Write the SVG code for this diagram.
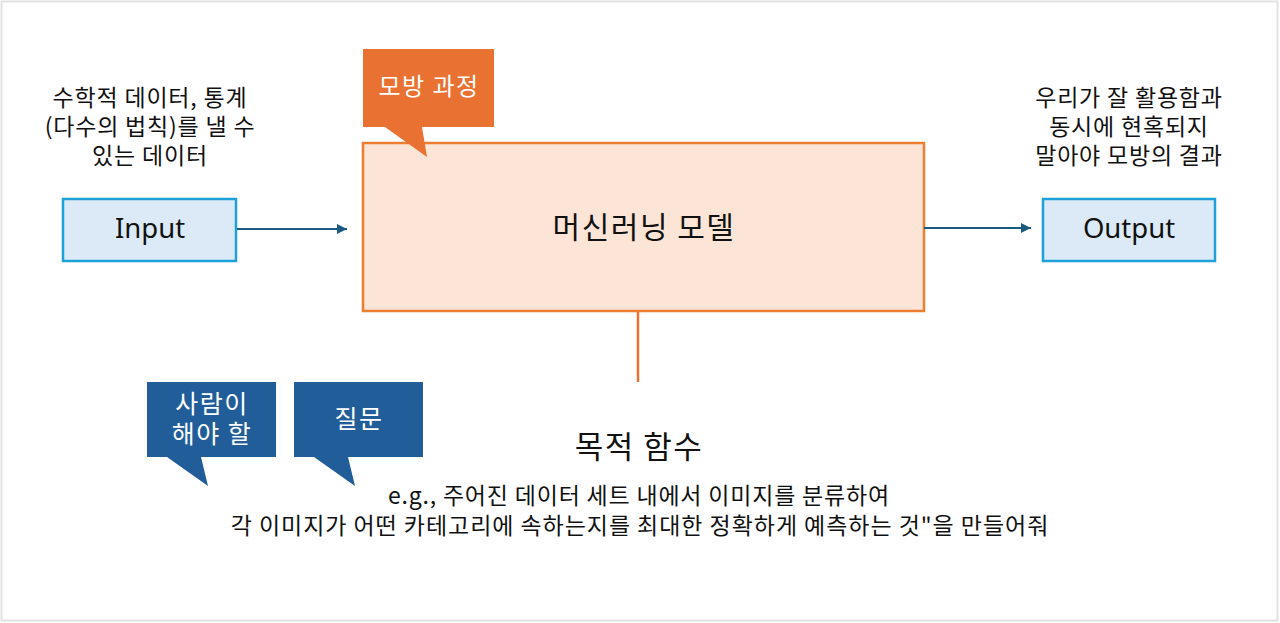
<svg xmlns="http://www.w3.org/2000/svg" width="1280" height="623" viewBox="0 0 1280 623">
<defs>
<style>
.t{font-family:"Noto Sans CJK KR","Noto Sans",sans-serif;fill:#111;text-anchor:middle}
.b{font-size:23px;letter-spacing:0.8px}
.w{fill:#fff;font-size:25px;letter-spacing:1.5px}
.lat{font-family:"Noto Sans","Noto Sans CJK KR",sans-serif;fill:#111;text-anchor:middle;font-size:27.5px}
.box{fill:#dceaf7;stroke:#1ea0d8;stroke-width:2.5}
.conn{stroke:#1d5a80;stroke-width:2;fill:none}
.orl{stroke:#e97132;stroke-width:2.5;fill:none}
</style>
<marker id="ah" viewBox="0 0 10 10" refX="10" refY="5" markerWidth="10" markerHeight="10" markerUnits="userSpaceOnUse" orient="auto">
<path d="M0,0 L10,5 L0,10 z" fill="#1d5a80"/>
</marker>
</defs>
<rect x="0" y="0" width="1280" height="623" fill="#fff"/>
<rect x="1.5" y="1.5" width="1276" height="619" fill="none" stroke="#e2e2e2" stroke-width="2"/>

<g id="input-note">
<text class="t b" x="150" y="106">수학적 데이터, 통계</text>
<text class="t b" x="150" y="135">(다수의 법칙)를 낼 수</text>
<text class="t b" x="150" y="164">있는 데이터</text>
</g>
<g id="output-note">
<text class="t b" x="1129" y="106">우리가 잘 활용함과</text>
<text class="t b" x="1129" y="135">동시에 현혹되지</text>
<text class="t b" x="1129" y="164">말아야 모방의 결과</text>
</g>

<g id="model">
<rect x="363" y="143" width="561" height="168" fill="#fce4d6" stroke="#ed7d31" stroke-width="2.5"/>
<text class="t" font-size="30" letter-spacing="1.5" x="644" y="238">머신러닝 모델</text>
</g>

<g id="callout-mimic">
<path d="M363,49 H494 V127 H422 L427,157 L385,127 H363 Z" fill="#e97132"/>
<text class="t w" x="429" y="95" style="font-size:24px">모방 과정</text>
</g>

<g id="input">
<rect class="box" x="63" y="199" width="173" height="62"/>
<text class="lat" x="150" y="238">Input</text>
</g>
<g id="output">
<rect class="box" x="1043" y="199" width="172" height="62"/>
<text class="lat" x="1129" y="238">Output</text>
</g>

<g id="callout-human">
<path d="M147,382 H276 V457 H201 L208,486 L167,457 H147 Z" fill="#215e99"/>
<text class="t w" x="212" y="413">사람이</text>
<text class="t w" x="212" y="443">해야 할</text>
</g>
<g id="callout-question">
<path d="M294,382 H423 V457 H348 L355,486 L314,457 H294 Z" fill="#215e99"/>
<text class="t w" x="359" y="428">질문</text>
</g>

<g id="objective">
<text class="t" font-size="31" letter-spacing="1.5" x="639" y="458">목적 함수</text>
<text class="t b" x="639" y="504">e.g., 주어진 데이터 세트 내에서 이미지를 분류하여</text>
<text class="t b" x="640" y="534" style="letter-spacing:0.95px">각 이미지가 어떤 카테고리에 속하는지를 최대한 정확하게 예측하는 것"을 만들어줘</text>
</g>

<g id="connectors">
<line class="conn" x1="237" y1="229" x2="347" y2="229" marker-end="url(#ah)"/>
<line class="conn" x1="924" y1="228" x2="1031" y2="228" marker-end="url(#ah)"/>
<line class="orl" x1="638" y1="312" x2="638" y2="382"/>
</g>
</svg>
